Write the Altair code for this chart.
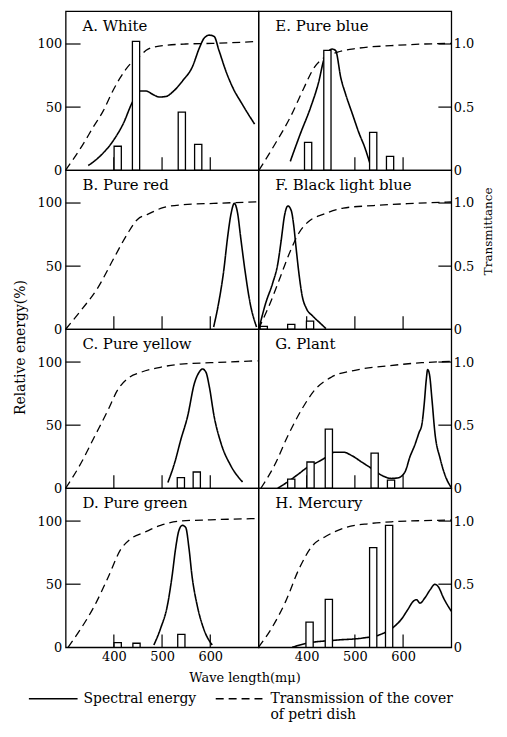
import json
import altair as alt
import pandas as pd

FONT = "DejaVu Serif"
W, H = 194, 160
X_DOMAIN = [300, 700]
E_DOMAIN = [0, 126]
T_DOMAIN = [0, 1.26]

WAVE_TICKS = [400, 500, 600]
ENERGY_TICKS = [0, 50, 100]
TRANS_TICKS = [0, 0.5, 1.0]

SERIES_LINES = [["Spectral energy"], ["Transmission of the cover", "of petri dish"]]
SERIES = [" ".join(s) for s in SERIES_LINES]

PANEL_NAMES = ["A. White", "E. Pure blue", "B. Pure red", "F. Black light blue",
               "C. Pure yellow", "G. Plant", "D. Pure green", "H. Mercury"]

# ---- A. White
A_trans_x = [300, 336, 357, 378, 398, 412, 426, 436, 453, 467, 488, 508, 549, 604, 700]
A_trans_y = [0, 0.205, 0.34, 0.47, 0.63, 0.725, 0.805, 0.85, 0.90, 0.95, 0.98, 0.99, 1.0, 1.005, 1.02]
A_energy_x = [347, 371, 398, 419, 440, 455, 467, 481, 494, 508, 522, 543, 563, 577, 587, 598, 608, 618, 632, 646, 666, 692]
A_energy_y = [3.7, 11, 23, 36.5, 55, 62.7, 62.7, 60, 58, 58.4, 62, 71, 82, 96.5, 104.5, 107, 106, 95, 79, 66, 52.5, 36.5]
A_bar_x = [408, 446, 541, 575]
A_bar_y = [19, 102, 46, 20.5]

# ---- E. Pure blue
E_trans_x = [301, 331, 366, 394, 415, 432, 464, 506, 575, 645, 700]
E_trans_y = [0, 0.186, 0.42, 0.65, 0.81, 0.88, 0.935, 0.966, 0.987, 1.0, 1.005]
E_energy_x = [366, 387, 408, 425, 436, 445, 453, 460, 471, 481, 495, 509, 520, 534]
E_energy_y = [7, 29, 49.6, 70, 88, 94, 96, 94.8, 72.9, 60, 44.4, 29, 18.6, 1.8]
E_bar_x = [403, 443, 538, 573]
E_bar_y = [22, 95, 30, 11]

# ---- B. Pure red
B_trans_x = [300, 332, 367, 401, 428, 449, 470, 504, 545, 607, 700]
B_trans_y = [0, 0.15, 0.33, 0.57, 0.755, 0.87, 0.91, 0.966, 0.987, 0.997, 1.01]
B_energy_x = [607, 617, 628, 636, 643, 650, 657, 663, 672, 683, 696]
B_energy_y = [1.8, 20, 46.6, 73, 91.3, 99.7, 91.3, 73, 46.6, 20, 1.8]
B_bar_x = []
B_bar_y = []

# ---- F. Black light blue
F_trans_x = [300, 322, 343, 364, 385, 406, 434, 476, 539, 609, 700]
F_trans_y = [0, 0.186, 0.39, 0.60, 0.77, 0.86, 0.91, 0.96, 0.98, 0.995, 1.008]
F_energy_x = [301, 315, 329, 340, 347, 354, 361, 368, 373, 378, 384, 391, 399, 413, 427, 440]
F_energy_y = [0.5, 20.7, 36, 51.7, 70, 90, 97.7, 94, 82.7, 64.6, 44, 25.8, 16.8, 10.3, 5.2, 0.5]
F_bar_x = [311, 368, 407]
F_bar_y = [2.3, 3.9, 6.5]

# ---- C. Pure yellow
C_trans_x = [300, 332, 360, 388, 408, 429, 457, 498, 539, 601, 698]
C_trans_y = [0, 0.20, 0.41, 0.62, 0.78, 0.87, 0.92, 0.96, 0.984, 0.995, 1.01]
C_energy_x = [512, 526, 539, 553, 567, 577, 584, 591, 598, 608, 622, 643, 667]
C_energy_y = [4.5, 20, 38.6, 57, 83, 92, 94.5, 92, 80.6, 57, 36, 17.6, 5]
C_bar_x = [539, 572]
C_bar_y = [8.4, 12.9]

# ---- G. Plant
G_trans_x = [305, 333, 361, 389, 417, 451, 500, 569, 639, 700]
G_trans_y = [0, 0.18, 0.416, 0.62, 0.78, 0.88, 0.935, 0.97, 0.995, 1.005]
G_energy_x = [340, 361, 382, 403, 423, 441, 458, 476, 493, 514, 535, 555, 576, 590, 604, 614,
              625, 633, 639, 644, 648, 651, 655, 660, 666, 677, 687, 700]
G_energy_y = [0, 5.2, 11, 17, 20.8, 24.7, 28.6, 28.6, 26, 20.8, 15.6, 10.4, 7.8, 8.3, 13, 24.7,
              35, 44, 50.6, 67.5, 85.7, 94, 89.6, 70, 44, 23.4, 10.4, 0.5]
G_bar_x = [368, 408, 446, 541, 575]
G_bar_y = [7.3, 20.8, 46.8, 27.8, 6.5]

# ---- D. Pure green
D_trans_x = [305, 332, 360, 387, 415, 435, 463, 497, 538, 600, 700]
D_trans_y = [0, 0.15, 0.33, 0.545, 0.78, 0.86, 0.91, 0.966, 1.0, 1.01, 1.02]
D_energy_x = [483, 497, 511, 521, 528, 535, 542, 549, 556, 562, 573, 586, 604]
D_energy_y = [1.8, 15, 33, 57, 78, 92.6, 96.6, 95, 78, 57, 33, 15, 1.8]
D_bar_x = [408, 447, 540]
D_bar_y = [3.7, 3.2, 10.3]

# ---- H. Mercury
H_trans_x = [300, 328, 356, 384, 412, 440, 482, 530, 579, 635, 700]
H_trans_y = [0, 0.156, 0.36, 0.62, 0.805, 0.88, 0.95, 0.98, 0.995, 1.003, 1.008]
H_energy_x = [370, 398, 461, 516, 551, 579, 596, 610, 621, 628, 635, 645, 656, 666, 673, 684, 700]
H_energy_y = [0, 3, 5.7, 7.3, 9.9, 15.6, 22, 30, 36.4, 37.7, 35, 39, 45.5, 49.9, 48, 39, 28.6]
H_bar_x = [406, 446, 538, 571]
H_bar_y = [20, 38, 79, 96.6]

PANEL_DATA = [
    (A_trans_x, A_trans_y, A_energy_x, A_energy_y, A_bar_x, A_bar_y),
    (E_trans_x, E_trans_y, E_energy_x, E_energy_y, E_bar_x, E_bar_y),
    (B_trans_x, B_trans_y, B_energy_x, B_energy_y, B_bar_x, B_bar_y),
    (F_trans_x, F_trans_y, F_energy_x, F_energy_y, F_bar_x, F_bar_y),
    (C_trans_x, C_trans_y, C_energy_x, C_energy_y, C_bar_x, C_bar_y),
    (G_trans_x, G_trans_y, G_energy_x, G_energy_y, G_bar_x, G_bar_y),
    (D_trans_x, D_trans_y, D_energy_x, D_energy_y, D_bar_x, D_bar_y),
    (H_trans_x, H_trans_y, H_energy_x, H_energy_y, H_bar_x, H_bar_y),
]

xscale = alt.Scale(domain=X_DOMAIN, nice=False, zero=False)
escale = alt.Scale(domain=E_DOMAIN, nice=False, zero=False)
tscale = alt.Scale(domain=T_DOMAIN, nice=False, zero=False)
dash_scale = alt.Scale(domain=SERIES, range=[[1, 0], [8, 5]])

# both legend labels get the same number of lines so the two entries line up
n_lines = max(len(s) for s in SERIES_LINES)
padded = [s + [""] * (n_lines - len(s)) for s in SERIES_LINES]
label_expr = (f"datum.label == {json.dumps(SERIES[1])} ? {json.dumps(padded[1])} : "
              f"{json.dumps(padded[0])}")
legend = alt.Legend(
    title=None, orient="none", legendX=-38, legendY=666, direction="horizontal",
    symbolType="stroke", symbolSize=2401, symbolStrokeWidth=1.3,
    symbolStrokeColor="black", labelFont=FONT, labelFontSize=14,
    labelColor="black", labelOffset=5, columnPadding=16, labelLimit=400,
    labelExpr=label_expr, labelBaseline="middle",
)

TEXT = dict(labelFont=FONT, labelFontSize=13, labelColor="black",
            titleFont=FONT, titleFontWeight="normal", titleColor="black")


def x_axis(row, col):
    if row != 3:
        return None
    kw = dict(values=WAVE_TICKS, ticks=False, domain=False, grid=False,
              labelPadding=3, **TEXT)
    if col == 0:
        kw.update(title="Wave length(mμ)", titleX=180, titleY=24,
                  titleBaseline="top", titleAlign="center", titleFontSize=13)
    else:
        kw.update(title=None)
    return alt.Axis(**kw)


def e_axis(row, col):
    if col != 0:
        return None
    kw = dict(orient="left", values=ENERGY_TICKS, ticks=False, domain=False,
              grid=False, labelFlush=False, labelPadding=4, **TEXT)
    if row == 1:
        kw.update(title="Relative energy(%)", titleX=-45, titleY=178,
                  titleAngle=270, titleAlign="center", titleBaseline="middle",
                  titleFontSize=14)
    else:
        kw.update(title=None)
    return alt.Axis(**kw)


def t_axis(row, col):
    if col != 1:
        return None
    kw = dict(orient="right", values=TRANS_TICKS, ticks=False, domain=False,
              grid=False, labelFlush=False, labelPadding=2,
              labelExpr="datum.value == 0 ? '0' : format(datum.value, '.1f')",
              **TEXT)
    if row == 1:
        kw.update(title="Transmittance", titleX=36, titleY=61, titleAngle=270,
                  titleAlign="center", titleBaseline="middle", titleFontSize=12)
    else:
        kw.update(title=None)
    return alt.Axis(**kw)


def panel(i):
    row, col = divmod(i, 2)
    tx, ty, ex, ey, bx, by = PANEL_DATA[i]
    xa = x_axis(row, col)

    xt = alt.Chart(pd.DataFrame({"w": WAVE_TICKS})).mark_rule(
        color="black", strokeWidth=1.2).encode(
        x=alt.X("w:Q", scale=xscale, axis=xa),
        y=alt.value(H), y2=alt.value(H - 13))
    if col == 0:
        yt = alt.Chart(pd.DataFrame({"v": ENERGY_TICKS[1:]})).mark_rule(
            color="black", strokeWidth=1.2).encode(
            y=alt.Y("v:Q", scale=escale, axis=None),
            x=alt.value(0), x2=alt.value(15))
    else:
        yt = alt.Chart(pd.DataFrame({"v": TRANS_TICKS[1:]})).mark_rule(
            color="black", strokeWidth=1.2).encode(
            y=alt.Y("v:Q", scale=tscale, axis=None),
            x=alt.value(W - 13), x2=alt.value(W))

    trans = alt.Chart(pd.DataFrame({"w": tx, "t": ty, "s": SERIES[1]})).mark_line(
        color="black", strokeWidth=1.3, interpolate="monotone").encode(
        x=alt.X("w:Q", scale=xscale, axis=xa),
        y=alt.Y("t:Q", scale=tscale, axis=t_axis(row, col)),
        strokeDash=alt.StrokeDash("s:N", scale=dash_scale, legend=legend))

    energy = alt.Chart(pd.DataFrame({"w": ex, "e": ey, "s": SERIES[0]})).mark_line(
        color="black", strokeWidth=1.6, interpolate="monotone").encode(
        x=alt.X("w:Q", scale=xscale, axis=xa),
        y=alt.Y("e:Q", scale=escale, axis=e_axis(row, col)),
        strokeDash=alt.StrokeDash("s:N", scale=dash_scale, legend=legend))

    layers = [xt, yt, trans, energy]
    if bx:
        bars = alt.Chart(pd.DataFrame({"w": bx, "e": by})).transform_calculate(
            w0="datum.w - 7.5", w1="datum.w + 7.5").mark_rect(
            fill="white", stroke="black", strokeWidth=1.3).encode(
            x=alt.X("w0:Q", scale=xscale, axis=xa),
            x2="w1:Q",
            y=alt.Y("e:Q", scale=escale, axis=None),
            y2=alt.Y2(datum=0))
        layers.append(bars)

    label = alt.Chart(pd.DataFrame({"n": [PANEL_NAMES[i]]})).mark_text(
        align="left", baseline="alphabetic", font=FONT, fontSize=15,
        color="black").encode(x=alt.value(17), y=alt.value(20), text="n:N")
    layers.append(label)

    return alt.layer(*layers).resolve_scale(y="independent").properties(
        width=W, height=H)


panels = [panel(i) for i in range(8)]

chart = alt.concat(*panels, columns=2, spacing=0, bounds="flush").properties(
    padding={"left": 5, "top": 0, "right": 5, "bottom": 5},
    background="white",
).configure_view(stroke="black", strokeWidth=1.3).configure_legend(
    labelFont=FONT, labelFontSize=14, labelColor="black"
)

chart.save("out.html", embed_options={"renderer": "svg", "actions": False})
